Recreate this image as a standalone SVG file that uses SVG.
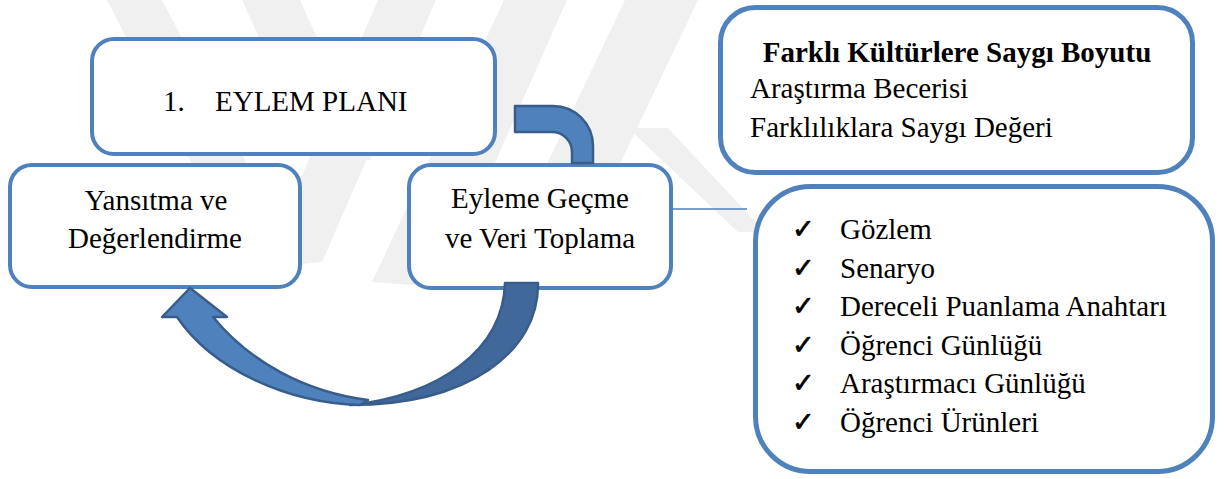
<svg xmlns="http://www.w3.org/2000/svg" width="1224" height="479" viewBox="0 0 1224 479">
  <style>
    .box { fill: #ffffff; stroke: #4f81bd; stroke-width: 4; }
    .box-thick { fill: #ffffff; stroke: #4f81bd; stroke-width: 5; }
    .label { font-family: "Liberation Serif", "Times New Roman", serif; font-size: 29px; fill: #000000; }
    .center { text-anchor: middle; }
    .bold { font-weight: bold; }
    .tick { font-family: "DejaVu Sans", sans-serif; font-size: 27px; fill: #000000; stroke: #000000; stroke-width: 0.7; }
    .arrow-light { fill: #4f81bd; stroke: #385d8a; stroke-width: 2.5; stroke-linejoin: round; }
    .arrow-dark { fill: #40689a; stroke: #385d8a; stroke-width: 2.5; stroke-linejoin: round; }
    .link { stroke: #4f81bd; stroke-width: 1.6; fill: none; }
    .mark { fill: #f0f0f0; }
  </style>

  <rect x="0" y="0" width="1224" height="479" fill="#ffffff"/>

  <!-- faint background chevron bands -->
  <g id="watermark">
    <polygon class="mark" points="107,0 162,0 250,170 195,170"/>
    <polygon class="mark" points="242,0 300,0 372,160 314,160"/>
    <polygon class="mark" points="378,0 436,0 322,262 262,268"/>
    <polygon class="mark" points="504,0 567,0 440,287 372,282"/>
    <polygon class="mark" points="625,0 698,0 560,290 487,290"/>
    <polygon class="mark" points="628,128 668,128 765,232 738,232"/>
  </g>

  <g id="node-plan">
    <rect class="box" x="92" y="39" width="403" height="115" rx="22"/>
    <text class="label" x="163" y="111">1.</text>
    <text class="label" x="215" y="111">EYLEM PLANI</text>
  </g>

  <g id="node-reflect">
    <rect class="box" x="10" y="165" width="290" height="122" rx="22"/>
    <text class="label center" x="156" y="210">Yansıtma ve</text>
    <text class="label center" x="155" y="248">Değerlendirme</text>
  </g>

  <g id="node-act">
    <rect class="box" x="409" y="165" width="262" height="123" rx="22"/>
    <text class="label center" x="540" y="208">Eyleme Geçme</text>
    <text class="label center" x="540" y="248">ve Veri Toplama</text>
  </g>

  <g id="node-dimension">
    <rect class="box-thick" x="720.5" y="7.5" width="472" height="165" rx="35"/>
    <text class="label bold center" x="957" y="62">Farklı Kültürlere Saygı Boyutu</text>
    <text class="label" x="750" y="98">Araştırma Becerisi</text>
    <text class="label" x="750" y="137">Farklılıklara Saygı Değeri</text>
  </g>

  <g id="node-tools">
    <rect class="box-thick" x="755.5" y="186.5" width="457" height="285" rx="55"/>
    <text class="tick" x="792" y="238">✓</text>
    <text class="label" x="840" y="239">Gözlem</text>
    <text class="tick" x="792" y="277">✓</text>
    <text class="label" x="840" y="278">Senaryo</text>
    <text class="tick" x="792" y="315">✓</text>
    <text class="label" x="840" y="316">Dereceli Puanlama Anahtarı</text>
    <text class="tick" x="792" y="354">✓</text>
    <text class="label" x="840" y="355">Öğrenci Günlüğü</text>
    <text class="tick" x="792" y="392">✓</text>
    <text class="label" x="840" y="393">Araştırmacı Günlüğü</text>
    <text class="tick" x="792" y="431">✓</text>
    <text class="label" x="840" y="432">Öğrenci Ürünleri</text>
  </g>

  <g id="connectors">
    <!-- plan to action: bent band -->
    <path class="arrow-light" d="M515,106 H553 A40,40 0 0 1 593,146 V163 H572 V152 A20,20 0 0 0 552,132 H515 Z"/>
    <!-- action to reflection: curved arrow, shaded back face -->
    <path class="arrow-dark" d="M505,283 L538,283 C539,352 468,405 350,405 C440,395 503,350 505,283 Z"/>
    <!-- curved arrow, front face with head -->
    <path class="arrow-light" d="M360,405 C288,403 213,370 177,317 L162,317 L190,288 L227,317 L213,317 C250,362 305,392 368,400 Z"/>
    <!-- action to tools -->
    <line class="link" x1="673" y1="209" x2="747" y2="209"/>
  </g>
</svg>
